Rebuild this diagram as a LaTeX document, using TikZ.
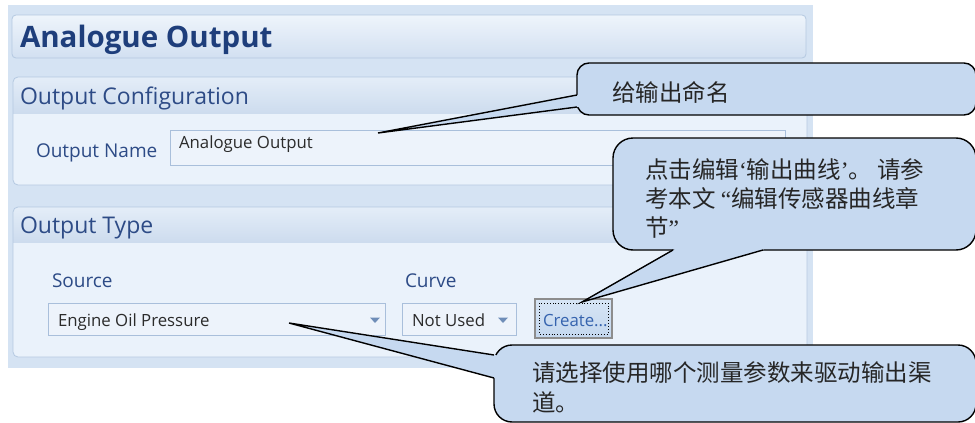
\documentclass[tikz,border=0pt]{standalone}
\usepackage{fontspec}
\setmainfont{Open Sans}
\newfontfamily\cjk{Noto Sans CJK SC}
\newfontfamily\latinq{Liberation Serif}
\usetikzlibrary{calc}

\definecolor{panelBg}{HTML}{D5E3F3}
\definecolor{titleTop}{HTML}{EEF4FB}
\definecolor{titleBot}{HTML}{D2E0F1}
\definecolor{frameLine}{HTML}{B5C9E1}
\definecolor{hdrTop}{HTML}{E4EDF8}
\definecolor{hdrBot}{HTML}{CDDCEE}
\definecolor{groupBody}{HTML}{EAF2FB}
\definecolor{fieldFill}{HTML}{EDF3FB}
\definecolor{fieldLine}{HTML}{A9BFDB}
\definecolor{labelBlue}{HTML}{2D4B86}
\definecolor{titleBlue}{HTML}{1E3E7B}
\definecolor{inputText}{HTML}{2B2B2B}
\definecolor{noteFill}{HTML}{C6D9F0}
\definecolor{btnLine}{HTML}{8D8D8D}
\definecolor{btnTop}{HTML}{D7E5F5}
\definecolor{btnBot}{HTML}{C3D7EE}
\definecolor{createBlue}{HTML}{3563AE}
\definecolor{dropArrow}{HTML}{6F8DB8}

\begin{document}
\begin{tikzpicture}[x=1pt,y=-1pt,
  every node/.style={inner sep=0pt, outer sep=0pt},
  titletext/.style={font=\fontsize{29.5}{32}\selectfont\bfseries, text=titleBlue},
  headtext/.style={font=\fontsize{23}{26}\selectfont, text=labelBlue},
  lbl/.style={font=\fontsize{19}{22}\selectfont, text=labelBlue},
  entry/.style={font=\fontsize{16.8}{19}\selectfont, text=inputText},
  field/.style={draw=fieldLine, fill=fieldFill, line width=0.8pt},
  btnbox/.style={draw=btnLine, line width=1.8pt, top color=btnTop, bottom color=btnBot},
  note/.style={draw=black, line width=1.4pt, fill=noteFill},
  noteline/.style={draw=black, line width=1.4pt},
  notetext/.style={font=\cjk\fontsize{23.5}{29}\selectfont, text=black!85},
]
\clip (0,0) rectangle (975,423);
\fill[white] (0,0) rectangle (975,423);

% window background
\fill[panelBg] (8,5) rectangle (813,368);

% title bar
\shade[top color=titleTop, bottom color=titleBot, draw=frameLine, line width=0.8pt, rounded corners=4pt]
  (12,15) rectangle (806,58);
\node[titletext, anchor=base west] (title) at (20,47) {Analogue Output};

% group frame: Output Configuration
\fill[groupBody, rounded corners=5pt] (13,77) rectangle (807,185);
\begin{scope}
  \clip[rounded corners=5pt] (13,77) rectangle (807,185);
  \shade[top color=hdrTop, bottom color=hdrBot] (13,77) rectangle (807,113);
\end{scope}
\draw[frameLine, line width=0.8pt, rounded corners=5pt] (13,77) rectangle (807,185);
\node[headtext, anchor=base west] (cfgHead) at (20,104) {Output Configuration};

\node[lbl, anchor=base west] (nameLbl) at (36,157) {Output Name};
\node[field, minimum width=615pt, minimum height=35pt, anchor=north west] (nameBox) at (170,130) {};
\node[entry, anchor=base west] (nameVal) at (179,148) {Analogue Output};

% group frame: Output Type
\fill[groupBody, rounded corners=5pt] (13,207) rectangle (807,357);
\begin{scope}
  \clip[rounded corners=5pt] (13,207) rectangle (807,357);
  \shade[top color=hdrTop, bottom color=hdrBot] (13,207) rectangle (807,242);
\end{scope}
\draw[frameLine, line width=0.8pt, rounded corners=5pt] (13,207) rectangle (807,357);
\node[headtext, anchor=base west] (typeHead) at (20,233) {Output Type};

\node[lbl, anchor=base west] (srcLbl) at (52,287) {Source};
\node[lbl, anchor=base west] (curveLbl) at (405,287) {Curve};

\node[field, minimum width=337pt, minimum height=32pt, anchor=north west] (srcBox) at (48,303) {};
\node[entry, anchor=base west] (srcVal) at (58,326) {Engine Oil Pressure};
\fill[dropArrow] (370,317.5) -- (380,317.5) -- (375,323) -- cycle;

\node[field, minimum width=114pt, minimum height=32pt, anchor=north west] (curveBox) at (402,303) {};
\node[entry, anchor=base west] (curveVal) at (412,326) {Not Used};
\fill[dropArrow] (498,317.5) -- (508,317.5) -- (503,323) -- cycle;

\node[btnbox, minimum width=77pt, minimum height=39pt, anchor=north west] (createBtn) at (535,299) {};
\draw[black, line width=0.9pt, dotted] ($(createBtn.north west)+(4,4)$) rectangle ($(createBtn.south east)+(-4,-4)$);
\node[entry, text=createBlue, anchor=base west] (createTxt) at (543,326) {Create...};

% callout: output name
\node[note, rounded corners=12pt, minimum width=399pt, minimum height=52pt, anchor=north west] (noteName) at (577,63) {};
\coordinate (nameTip) at (378,133);
\coordinate (nameB1) at ($(noteName.north west)+(0,32)$);
\coordinate (nameB2) at ($(noteName.north west)+(0,44)$);
\fill[noteFill] (nameB1) -- (nameTip) -- (nameB2) -- (noteName.center) -- cycle;
\draw[noteline] (nameB1) -- (nameTip) -- (nameB2);
\node[notetext, anchor=base west] (nameNoteTxt) at (612,101) {给输出命名};

% callout: curve editor
\node[note, rounded corners=20pt, minimum width=363pt, minimum height=112pt, anchor=north west] (noteCurve) at (613,138) {};
\coordinate (curveTip) at (582,302);
\coordinate (curveB1) at ($(noteCurve.south west)+(60,0)$);
\coordinate (curveB2) at ($(noteCurve.south west)+(150,0)$);
\fill[noteFill] (curveB1) -- (curveTip) -- (curveB2) -- (noteCurve.center) -- cycle;
\draw[noteline] (curveB1) -- (curveTip) -- (curveB2);
\node[notetext, anchor=base west] (curveNoteA) at (645,178) {点击编辑{\latinq ‘}输出曲线{\latinq ’}。 请参};
\node[notetext, anchor=base west] (curveNoteB) at (645,207) {考本文 {\latinq “}编辑传感器曲线章};
\node[notetext, anchor=base west] (curveNoteC) at (645,236) {节{\latinq ”}};

% callout: source selection
\node[note, rounded corners=18pt, minimum width=482pt, minimum height=77pt, anchor=north west] (noteSource) at (494,345) {};
\coordinate (srcTip) at (289,323);
\coordinate (srcB1) at ($(noteSource.north west)+(0,10)$);
\coordinate (srcB2) at ($(noteSource.north west)+(0,33)$);
\fill[noteFill] (srcB1) -- (srcTip) -- (srcB2) -- (noteSource.center) -- cycle;
\draw[noteline] (srcB1) -- (srcTip) -- (srcB2);
\node[notetext, anchor=base west] (srcNoteA) at (532,381) {请选择使用哪个测量参数来驱动输出渠};
\node[notetext, anchor=base west] (srcNoteB) at (532,411) {道。};
\end{tikzpicture}
\end{document}
